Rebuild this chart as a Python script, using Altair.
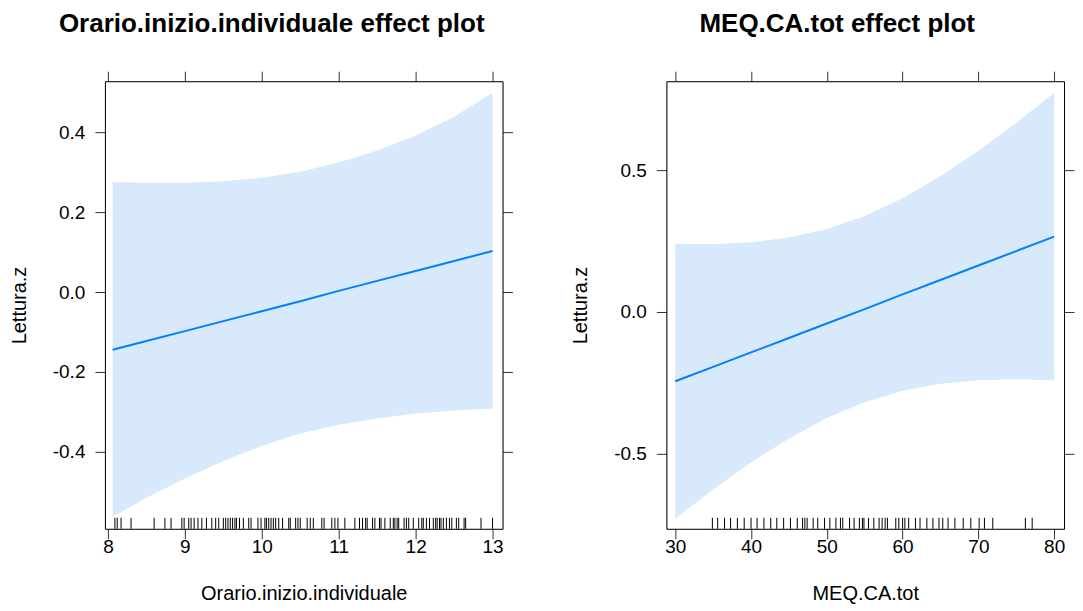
import altair as alt
import pandas as pd

# ---- Left panel: Orario.inizio.individuale ----
ora_x = [8.06, 8.5, 9.0, 9.5, 10.0, 10.5, 11.0, 11.5, 12.0, 12.5, 13.0]
ora_fit = [-0.145, -0.123, -0.098, -0.073, -0.048, -0.023, 0.003, 0.028, 0.053, 0.078, 0.103]
ora_upper = [0.276, 0.274, 0.274, 0.278, 0.287, 0.302, 0.325, 0.355, 0.392, 0.440, 0.500]
ora_lower = [-0.564, -0.516, -0.468, -0.424, -0.386, -0.355, -0.333, -0.317, -0.305, -0.297, -0.292]
ora_rug = [8.09, 8.12, 8.17, 8.30, 8.60, 8.74, 8.82, 8.96, 8.99, 9.05, 9.08, 9.12, 9.17,
           9.22, 9.28, 9.35, 9.40, 9.44, 9.50, 9.53, 9.56, 9.59, 9.62, 9.65, 9.67, 9.71,
           9.76, 9.83, 9.86, 9.95, 9.99, 10.04, 10.06, 10.09, 10.12, 10.15, 10.18, 10.22,
           10.27, 10.35, 10.37, 10.44, 10.47, 10.50, 10.59, 10.63, 10.67, 10.78, 10.81,
           10.91, 10.95, 10.99, 11.08, 11.21, 11.27, 11.31, 11.35, 11.37, 11.44, 11.47,
           11.53, 11.55, 11.60, 11.67, 11.71, 11.73, 11.76, 11.78, 11.85, 11.88, 11.91,
           11.97, 12.04, 12.08, 12.10, 12.14, 12.18, 12.23, 12.26, 12.28, 12.31, 12.33,
           12.36, 12.40, 12.44, 12.47, 12.53, 12.56, 12.63, 12.65, 12.85, 13.0]
ora_xticks = [8, 9, 10, 11, 12, 13]
ora_yticks = [-0.4, -0.2, 0.0, 0.2, 0.4]

# ---- Right panel: MEQ.CA.tot ----
meq_x = [30, 35, 40, 45, 50, 55, 60, 65, 70, 75, 80]
meq_fit = [-0.245, -0.194, -0.143, -0.092, -0.041, 0.010, 0.062, 0.113, 0.164, 0.215, 0.266]
meq_upper = [0.240, 0.239, 0.246, 0.263, 0.293, 0.339, 0.402, 0.480, 0.569, 0.668, 0.773]
meq_lower = [-0.730, -0.627, -0.532, -0.447, -0.375, -0.319, -0.278, -0.254, -0.241, -0.238, -0.241]
meq_rug = [34.9, 35.6, 36.5, 37.3, 38.2, 39.1, 40.0, 40.8, 41.7, 42.6, 43.4, 44.3, 45.2, 46.1,
           46.8, 47.1, 47.4, 48.2, 48.8, 49.7, 50.4, 51.2, 51.8, 52.1, 53.0, 53.6, 54.3, 54.7,
           54.9, 55.5, 56.2, 56.9, 57.3, 57.7, 58.0, 59.1, 59.5, 60.0, 60.3, 60.8, 61.7, 62.3,
           63.2, 64.0, 64.8, 65.3, 66.0, 66.9, 68.0, 69.0, 70.1, 70.8, 71.9, 76.2, 77.1]
meq_xticks = [30, 40, 50, 60, 70, 80]
meq_yticks = [-0.5, 0.0, 0.5]

W, H = 398, 448
FONT = "Liberation Sans"
BAND = "#D8E9FC"
LINE = "#0080FF"
TICKC = "#333333"


def panel(xs, fit, up, lo, rug, xdom, ydom, xticks, yticks, xtitle, title, tdx):
    df = pd.DataFrame({"x": xs, "fit": fit, "up": up, "lo": lo})
    rdf = pd.DataFrame({"r": rug})
    xs_ = alt.Scale(domain=xdom, nice=False, zero=False)
    ys_ = alt.Scale(domain=ydom, nice=False, zero=False)
    common = dict(tickSize=10, tickColor=TICKC, domain=True, domainColor="black",
                  domainWidth=1, grid=False,
                  labelFont=FONT, titleFont=FONT, labelFontSize=19, titleFontSize=20,
                  labelColor="black", titleColor="black", titleFontWeight="normal")
    xb = alt.Axis(orient="bottom", values=xticks, title=xtitle, labelPadding=-1, format="d",
                  titlePadding=27, labelFlush=False, **common)
    yl = alt.Axis(orient="left", values=yticks, title="Lettura.z", labelPadding=10,
                  titlePadding=23,
                  labelExpr="replace(format(datum.value, '.1f'), '\u2212', '-')", **common)
    xt = alt.Axis(orient="top", values=xticks, labels=False, title=None, **common)
    yr = alt.Axis(orient="right", values=yticks, labels=False, title=None, **common)

    band = alt.Chart(df).mark_area(color=BAND, opacity=1).encode(
        x=alt.X("x:Q", scale=xs_, axis=xb),
        y=alt.Y("lo:Q", scale=ys_, axis=yl),
        y2="up:Q",
    )
    line = alt.Chart(df).mark_line(color=LINE, strokeWidth=2).encode(
        x=alt.X("x:Q", scale=xs_), y=alt.Y("fit:Q", scale=ys_)
    )
    rugm = alt.Chart(rdf).mark_rule(color="black", strokeWidth=1).encode(
        x=alt.X("r:Q", scale=xs_), y=alt.value(H - 11), y2=alt.value(H)
    )
    base = alt.layer(band, line, rugm)
    ax2 = alt.Chart(df).mark_point(opacity=0).encode(
        x=alt.X("x:Q", scale=xs_, axis=xt),
        y=alt.Y("fit:Q", scale=ys_, axis=yr),
    )
    return alt.layer(base, ax2).resolve_scale(x="independent", y="independent").resolve_axis(
        x="independent", y="independent"
    ).properties(
        width=W, height=H,
        title=alt.TitleParams(title, font=FONT, fontSize=26, fontWeight="bold",
                              color="black", anchor="middle", offset=34, dx=tdx),
    )


left = panel(ora_x, ora_fit, ora_upper, ora_lower, ora_rug, [7.96, 13.13], [-0.594, 0.529],
             ora_xticks, ora_yticks, "Orario.inizio.individuale",
             "Orario.inizio.individuale effect plot", -32)
right = panel(meq_x, meq_fit, meq_upper, meq_lower, meq_rug, [28.83, 81.3], [-0.766, 0.815],
              meq_xticks, meq_yticks, "MEQ.CA.tot", "MEQ.CA.tot effect plot", -28)

chart = alt.hconcat(left, right, spacing=56).properties(
    padding={"left": 0, "top": 2, "right": 0, "bottom": 0}
).configure_view(strokeOpacity=0).configure(background="white")

chart.save("out.html", embed_options={"renderer": "svg", "actions": False})
